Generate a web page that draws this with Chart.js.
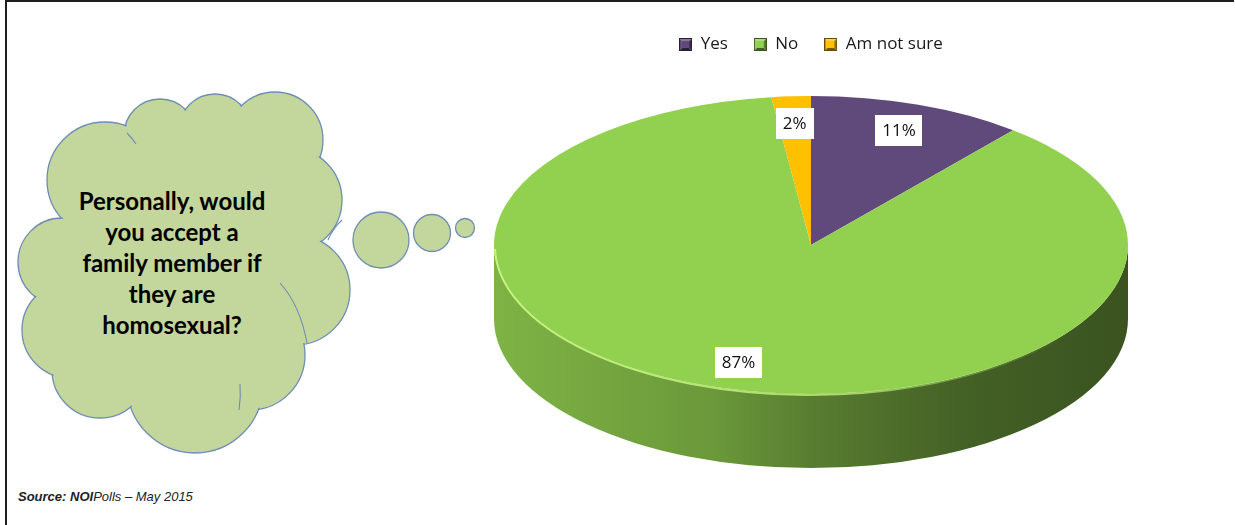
<!DOCTYPE html>
<html>
<head>
<meta charset="utf-8">
<script src="https://cdn.jsdelivr.net/npm/chart.js@4.4.1/dist/chart.umd.min.js"></script>
<style>
  html, body { margin: 0; padding: 0; background: #fff; }
  body { width: 1235px; height: 525px; position: relative; overflow: hidden; }
  #frame { position: absolute; left: 5px; top: 0; width: 1229px; height: 525px; box-sizing: border-box;
           border-top: 2px solid #1e1e1e; border-left: 2px solid #1e1e1e; }
  #cloud { position: absolute; left: 0; top: 0; }
  #question { position: absolute; left: 32px; top: 185px; width: 280px; text-align: center;
              font: bold 24px Lato, sans-serif; line-height: 31px; color: #000; }
  #source { position: absolute; left: 18px; top: 489px; font: italic 13px "Liberation Sans", sans-serif; color: #222; }
  #chartBox { position: absolute; left: 388px; top: 0; width: 846px; height: 525px; }
</style>
</head>
<body>
<div id="frame"></div>

<svg id="cloud" width="480" height="525">
  <!-- lobes with outline, then the same lobes filled again to hide the inner strokes -->
  <g fill="#C3D69B" stroke="#6E8DB3" stroke-width="1.3">
    <circle cx="160" cy="135" r="36"/>
    <circle cx="215" cy="130" r="36"/>
    <circle cx="275" cy="140" r="48"/>
    <circle cx="105" cy="180" r="58"/>
    <circle cx="62" cy="262" r="44"/>
    <circle cx="290" cy="200" r="52"/>
    <circle cx="295" cy="290" r="55"/>
    <circle cx="250" cy="355" r="55"/>
    <circle cx="195" cy="385" r="68"/>
    <circle cx="100" cy="370" r="48"/>
    <circle cx="70" cy="330" r="48"/>
  </g>
  <g fill="#C3D69B">
    <circle cx="160" cy="135" r="34.8"/>
    <circle cx="215" cy="130" r="34.8"/>
    <circle cx="275" cy="140" r="46.8"/>
    <circle cx="105" cy="180" r="56.8"/>
    <circle cx="62" cy="262" r="42.8"/>
    <circle cx="290" cy="200" r="50.8"/>
    <circle cx="295" cy="290" r="53.8"/>
    <circle cx="250" cy="355" r="53.8"/>
    <circle cx="195" cy="385" r="66.8"/>
    <circle cx="100" cy="370" r="46.8"/>
    <circle cx="70" cy="330" r="46.8"/>
    <ellipse cx="185" cy="270" rx="125" ry="140"/>
  </g>
  <g fill="none" stroke="#6E8DB3" stroke-width="1.1">
    <path d="M280 283 Q300 305 307 343"/>
    <path d="M328 240 Q333 228 342 220"/>
    <path d="M127 133 Q132 138 136 144"/>
    <path d="M240 384 Q241 397 239 410"/>
  </g>
  <g fill="#C3D69B" stroke="#6E8DB3" stroke-width="1.3">
    <circle cx="381" cy="240" r="28"/>
    <circle cx="432" cy="233" r="18.5"/>
    <circle cx="465" cy="228" r="9.5"/>
  </g>
</svg>

<div id="question">Personally, would<br>you accept a<br>family member if<br>they are<br>homosexual?</div>
<div id="source"><b>Source: NOI</b>Polls – May 2015</div>

<div id="chartBox"><canvas id="pie" width="846" height="525"></canvas></div>

<script>
// survey answers and their shares (%)
const answers = ['Yes', 'No', 'Am not sure'];
const shares = [11, 87, 2];
const sliceColors = ['#604A7B', '#92D050', '#FFC000'];

// look of the tilted pie
const tilt = 149 / 317;     // vertical squash of the top face
const depth = 74;           // thickness of the side wall in px
const labelReach = 0.82;    // where the value boxes sit along the radius

function shade(hex, k) {
  const n = parseInt(hex.slice(1), 16);
  const ch = [(n >> 16) & 255, (n >> 8) & 255, n & 255].map(v => {
    const c = k <= 1 ? v * k : v + (255 - v) * (k - 1);
    return Math.round(Math.max(0, Math.min(255, c)));
  });
  return 'rgb(' + ch.join(',') + ')';
}

// small bevelled squares for the legend
function legendMark(color) {
  const c = document.createElement('canvas');
  c.width = 13; c.height = 13;
  const g = c.getContext('2d');
  const quad = (pts, fill) => {
    g.beginPath();
    g.moveTo(pts[0][0], pts[0][1]);
    pts.slice(1).forEach(p => g.lineTo(p[0], p[1]));
    g.closePath();
    g.fillStyle = fill;
    g.fill();
  };
  quad([[0, 0], [13, 0], [10, 3], [3, 3]], shade(color, 1.25));
  quad([[0, 0], [3, 3], [3, 10], [0, 13]], shade(color, 1.05));
  quad([[13, 0], [13, 13], [10, 10], [10, 3]], shade(color, 0.6));
  quad([[0, 13], [3, 10], [10, 10], [13, 13]], shade(color, 0.45));
  g.fillStyle = color;
  g.fillRect(3, 3, 7, 7);
  g.strokeStyle = shade(color, 0.4);
  g.lineWidth = 1;
  g.strokeRect(0.5, 0.5, 12, 12);
  return c;
}
const legendMarks = sliceColors.map(legendMark);

// draws the side wall, squashes the slices into an ellipse and puts the value boxes on top
const pie3d = {
  id: 'pie3d',
  beforeDatasetsDraw(chart) {
    const ctx = chart.ctx;
    const arcs = chart.getDatasetMeta(0).data;
    if (!arcs.length) return;
    const { x, y, outerRadius: r } = arcs[0];
    const ry = r * tilt;

    arcs.forEach((arc, i) => {
      // only the front half of the wall is visible
      [[0, Math.PI], [2 * Math.PI, 3 * Math.PI]].forEach(([lo, hi]) => {
        const a1 = Math.max(arc.startAngle, lo);
        const a2 = Math.min(arc.endAngle, hi);
        if (a2 <= a1) return;
        const g = ctx.createLinearGradient(x - r, 0, x + r, 0);
        g.addColorStop(0, shade(sliceColors[i], 0.86));
        g.addColorStop(0.35, shade(sliceColors[i], 0.73));
        g.addColorStop(0.5, shade(sliceColors[i], 0.6));
        g.addColorStop(0.75, shade(sliceColors[i], 0.46));
        g.addColorStop(1, shade(sliceColors[i], 0.4));
        ctx.beginPath();
        ctx.ellipse(x, y, r, ry, 0, a1, a2);
        ctx.ellipse(x, y + depth, r, ry, 0, a2, a1, true);
        ctx.closePath();
        ctx.fillStyle = g;
        ctx.fill();
      });
    });

    ctx.save();
    ctx.translate(x, y);
    ctx.scale(1, tilt);
    ctx.translate(-x, -y);
  },
  afterDatasetsDraw(chart) {
    const ctx = chart.ctx;
    ctx.restore();
    const arcs = chart.getDatasetMeta(0).data;
    if (!arcs.length) return;
    const { x, y, outerRadius: r } = arcs[0];
    const ry = r * tilt;

    // light rim along the front edge of the top face
    const rim = ctx.createLinearGradient(x - r, 0, x + r, 0);
    rim.addColorStop(0, 'rgba(200,245,130,0.95)');
    rim.addColorStop(0.55, 'rgba(190,240,120,0.8)');
    rim.addColorStop(0.9, 'rgba(190,240,120,0)');
    ctx.beginPath();
    ctx.ellipse(x, y + 1, r - 1, ry, 0, 0.02, Math.PI - 0.02);
    ctx.strokeStyle = rim;
    ctx.lineWidth = 2;
    ctx.stroke();

    // value boxes
    ctx.font = '17px "Open Sans"';
    ctx.textAlign = 'center';
    ctx.textBaseline = 'middle';
    arcs.forEach((arc, i) => {
      const mid = (arc.startAngle + arc.endAngle) / 2;
      const lx = x + Math.cos(mid) * r * labelReach;
      const ly = y + Math.sin(mid) * ry * labelReach;
      const text = shares[i] + '%';
      const w = ctx.measureText(text).width + 14;
      const h = 31;
      ctx.fillStyle = '#fff';
      ctx.fillRect(Math.round(lx - w / 2), Math.round(ly - h / 2), Math.round(w), h);
      ctx.fillStyle = '#111';
      ctx.fillText(text, lx, ly + 1);
    });
  }
};

new Chart(document.getElementById('pie'), {
  type: 'pie',
  data: {
    labels: answers,
    datasets: [{
      data: shares,
      backgroundColor: sliceColors,
      borderWidth: 0,
      radius: 317,
      clip: false
    }]
  },
  options: {
    responsive: false,
    animation: false,
    events: [],
    layout: { padding: { top: 10, bottom: 98 } },
    plugins: {
      tooltip: { enabled: false },
      legend: {
        position: 'top',
        labels: {
          usePointStyle: true,
          boxWidth: 13,
          boxHeight: 13,
          padding: 26,
          color: '#1a1a1a',
          font: { family: '"Open Sans"', size: 17 },
          generateLabels: () => answers.map((text, i) => ({
            text: text,
            fillStyle: sliceColors[i],
            strokeStyle: sliceColors[i],
            lineWidth: 0,
            pointStyle: legendMarks[i],
            fontColor: '#1a1a1a',
            hidden: false,
            index: i
          }))
        }
      }
    }
  },
  plugins: [pie3d]
});
</script>
</body>
</html>
